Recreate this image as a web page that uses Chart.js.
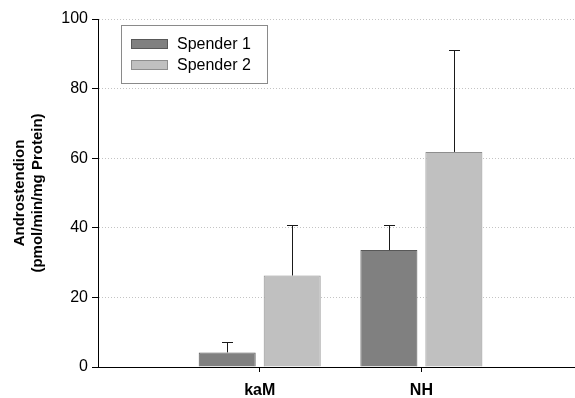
<!DOCTYPE html>
<html>
<head>
<meta charset="utf-8">
<script src="https://cdn.jsdelivr.net/npm/chart.js@4.4.1/dist/chart.umd.min.js"></script>
<style>
  body { margin: 0; background: #fff; }
  #wrap { width: 575px; height: 398px; }
</style>
</head>
<body>
<div id="wrap"><canvas id="chart" width="575" height="398"></canvas></div>
<script>
// categories and their slot on the x axis
const categories = ['kaM', 'NH'];
const catPos = [1, 2];

// series (mean values and upper error)
const seriesNames = ['Spender 1', 'Spender 2'];
const spender1 = [4.2, 33.6];
const spender1Err = [3.1, 7.3];
const spender2 = [26.3, 61.8];
const spender2Err = [14.6, 29.4];

// y axis ticks
const yTicks = [0, 20, 40, 60, 80, 100];

const fills = ['#808080', '#c0c0c0'];
const borders = ['#585858', '#8e8e8e'];

function toPoints(vals) {
  return vals.map((v, i) => ({ x: catPos[i], y: v }));
}

// upper error bars with a cap
const errorBars = {
  id: 'errorBars',
  afterDatasetsDraw(chart) {
    const ctx = chart.ctx;
    const yScale = chart.scales.y;
    const errs = [spender1Err, spender2Err];
    chart.data.datasets.forEach((ds, d) => {
      const meta = chart.getDatasetMeta(d);
      meta.data.forEach((bar, i) => {
        const top = Math.round(yScale.getPixelForValue(ds.data[i].y + errs[d][i])) + 0.5;
        const x = Math.round(bar.x) + 0.5;
        ctx.save();
        ctx.strokeStyle = '#1a1a1a';
        ctx.lineWidth = 1;
        ctx.beginPath();
        ctx.moveTo(x, bar.y);
        ctx.lineTo(x, top);
        ctx.moveTo(x - 5.5, top);
        ctx.lineTo(x + 5.5, top);
        ctx.stroke();
        ctx.restore();
      });
    });
  }
};

// boxed legend inside the plot
const boxLegend = {
  id: 'boxLegend',
  afterDraw(chart) {
    const ctx = chart.ctx;
    ctx.save();
    ctx.fillStyle = '#fff';
    ctx.fillRect(121, 25, 146, 58);
    ctx.strokeStyle = '#8a8a8a';
    ctx.lineWidth = 1;
    ctx.strokeRect(121.5, 25.5, 146, 58);
    ctx.font = '16px "Liberation Sans", Arial, sans-serif';
    ctx.textBaseline = 'middle';
    seriesNames.forEach((name, i) => {
      const y = 44 + i * 21;
      ctx.fillStyle = fills[i];
      ctx.fillRect(131, y - 5, 37, 10);
      ctx.strokeStyle = borders[i];
      ctx.strokeRect(131.5, y - 4.5, 36, 9);
      ctx.fillStyle = '#000';
      ctx.fillText(name, 177, y + 1);
    });
    ctx.restore();
  }
};

const ctx = document.getElementById('chart').getContext('2d');
const myChart = new Chart(ctx, {
  type: 'bar',
  data: {
    datasets: [{
      label: seriesNames[0],
      data: toPoints(spender1),
      backgroundColor: fills[0],
      borderColor: borders[0],
      borderWidth: 1
    }, {
      label: seriesNames[1],
      data: toPoints(spender2),
      backgroundColor: fills[1],
      borderColor: borders[1],
      borderWidth: 1
    }]
  },
  options: {
    responsive: false,
    animation: false,
    categoryPercentage: 0.804,
    barPercentage: 0.877,
    layout: { padding: { top: 19, right: 0, left: 0, bottom: 0 } },
    plugins: { legend: { display: false }, tooltip: { enabled: false } },
    scales: {
      x: {
        type: 'linear',
        min: 0,
        max: 2.95,
        offset: false,
        afterBuildTicks(scale) {
          scale.ticks = catPos.map(v => ({ value: v }));
        },
        afterFit(scale) { scale.height = 31; },
        border: { color: '#000', width: 1 },
        grid: { offset: false, drawOnChartArea: false, drawTicks: true, tickLength: 5, tickColor: '#000' },
        ticks: {
          padding: 9,
          color: '#000',
          font: { family: '"Liberation Sans", Arial, sans-serif', size: 16, weight: 'bold' },
          callback: (v) => categories[catPos.indexOf(v)] || ''
        }
      },
      y: {
        min: 0,
        max: 100,
        afterBuildTicks(scale) {
          scale.ticks = yTicks.map(v => ({ value: v }));
        },
        afterFit(scale) { scale.width = 98; },
        // in v4 border.dash also sets the grid line dash
        border: { color: '#000', width: 1, dash: [1, 2] },
        grid: {
          color: '#c4c4c4',
          tickColor: '#000',
          tickLength: 6,
          lineWidth: 1
        },
        ticks: {
          padding: 4,
          color: '#000',
          font: { family: '"Liberation Sans", Arial, sans-serif', size: 16 }
        },
        title: {
          display: true,
          text: ['Androstendion', '(pmol/min/mg Protein)'],
          color: '#000',
          font: { family: '"Liberation Sans", Arial, sans-serif', size: 15, weight: 'bold', lineHeight: 1.2 },
          padding: { top: 11, bottom: 0 }
        }
      }
    }
  },
  plugins: [errorBars, boxLegend]
});
</script>
</body>
</html>
